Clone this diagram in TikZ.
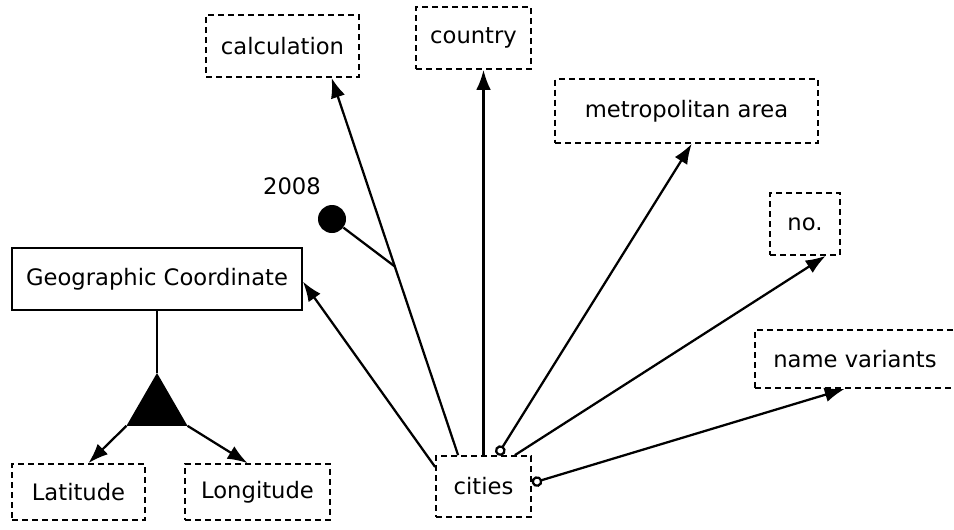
\documentclass[tikz,border=0pt]{standalone}
\usepackage{fontspec}
\setmainfont{DejaVu Sans}
\usetikzlibrary{arrows.meta, positioning, shapes.geometric, calc}

\begin{document}
\begin{tikzpicture}[x=0.75pt, y=-0.75pt,
  label font/.style={font=\fontsize{17}{19}\selectfont},
  attr/.style={draw, dash pattern=on 4.5pt off 3pt, line width=1.3pt,
               inner sep=0pt, label font},
  entity/.style={draw, line width=1.3pt, inner sep=0pt, label font},
  link/.style={line width=1.7pt, -{Latex[length=15pt, width=11pt]}},
  olink/.style={line width=1.7pt,
                {Circle[open, length=8pt, width=8pt, fill=white]}-{Latex[length=15pt, width=11pt]}}
]
  \path[fill=white, use as bounding box] (0,0) rectangle (954,529);

  % attribute boxes
  \node[attr, minimum width=114.75pt, minimum height=46.5pt] (calc) at (282.5,46) {calculation};
  \node[attr, minimum width=86.25pt, minimum height=46.5pt] (country) at (473.5,38) {country};
  \node[attr, minimum width=197pt, minimum height=48pt] (metro) at (686.5,111) {metropolitan area};
  \node[attr, minimum width=52.5pt, minimum height=46.5pt] (no) at (805,224) {no.};
  \node[attr, minimum width=150pt, minimum height=43.5pt] (names) at (855,359) {name variants};
  \node[attr, minimum width=71.25pt, minimum height=45.75pt] (cities) at (483.5,486.5) {cities};

  % coordinate entity and its parts
  \node[entity, minimum width=217.5pt, minimum height=46.5pt] (geo) at (157,279) {Geographic Coordinate};
  \node[regular polygon, regular polygon sides=3, fill=black, inner sep=0pt,
        outer sep=0pt, minimum size=52.8pt] (tri) at (157,408.2) {};
  \node[attr, minimum width=99.75pt, minimum height=42pt] (lat) at (78.5,492) {Latitude};
  \node[attr, minimum width=108.75pt, minimum height=42pt] (lon) at (257.5,492) {Longitude};

  % year marker
  \node[circle, fill=black, inner sep=0pt, minimum size=21pt] (dot) at (332,219) {};
  \node[label font] (yr) at (292,186) {2008};

  \draw[line width=1.7pt] (geo.south) -- (tri.corner 1);
  \draw[link] (tri.corner 2) -- (lat.71);
  \draw[link] (tri.corner 3) -- (lon.109);

  % links from cities
  \draw[link] (cities.129) -- (calc.-33);
  \coordinate (jn) at ($(cities.129)!0.5!(calc.-33)$);
  \draw[line width=1.7pt] (dot) -- (jn);
  \draw[link] (cities.north) -- (cities.north |- country.south);
  \draw[olink] (cities.66) -- (metro.-81);
  \draw[link] (cities.45) -- (no.-57);
  \draw[link] (cities.158) -- (geo.-1);
  \draw[olink] (cities.4) -- (names.251);
\end{tikzpicture}
\end{document}
